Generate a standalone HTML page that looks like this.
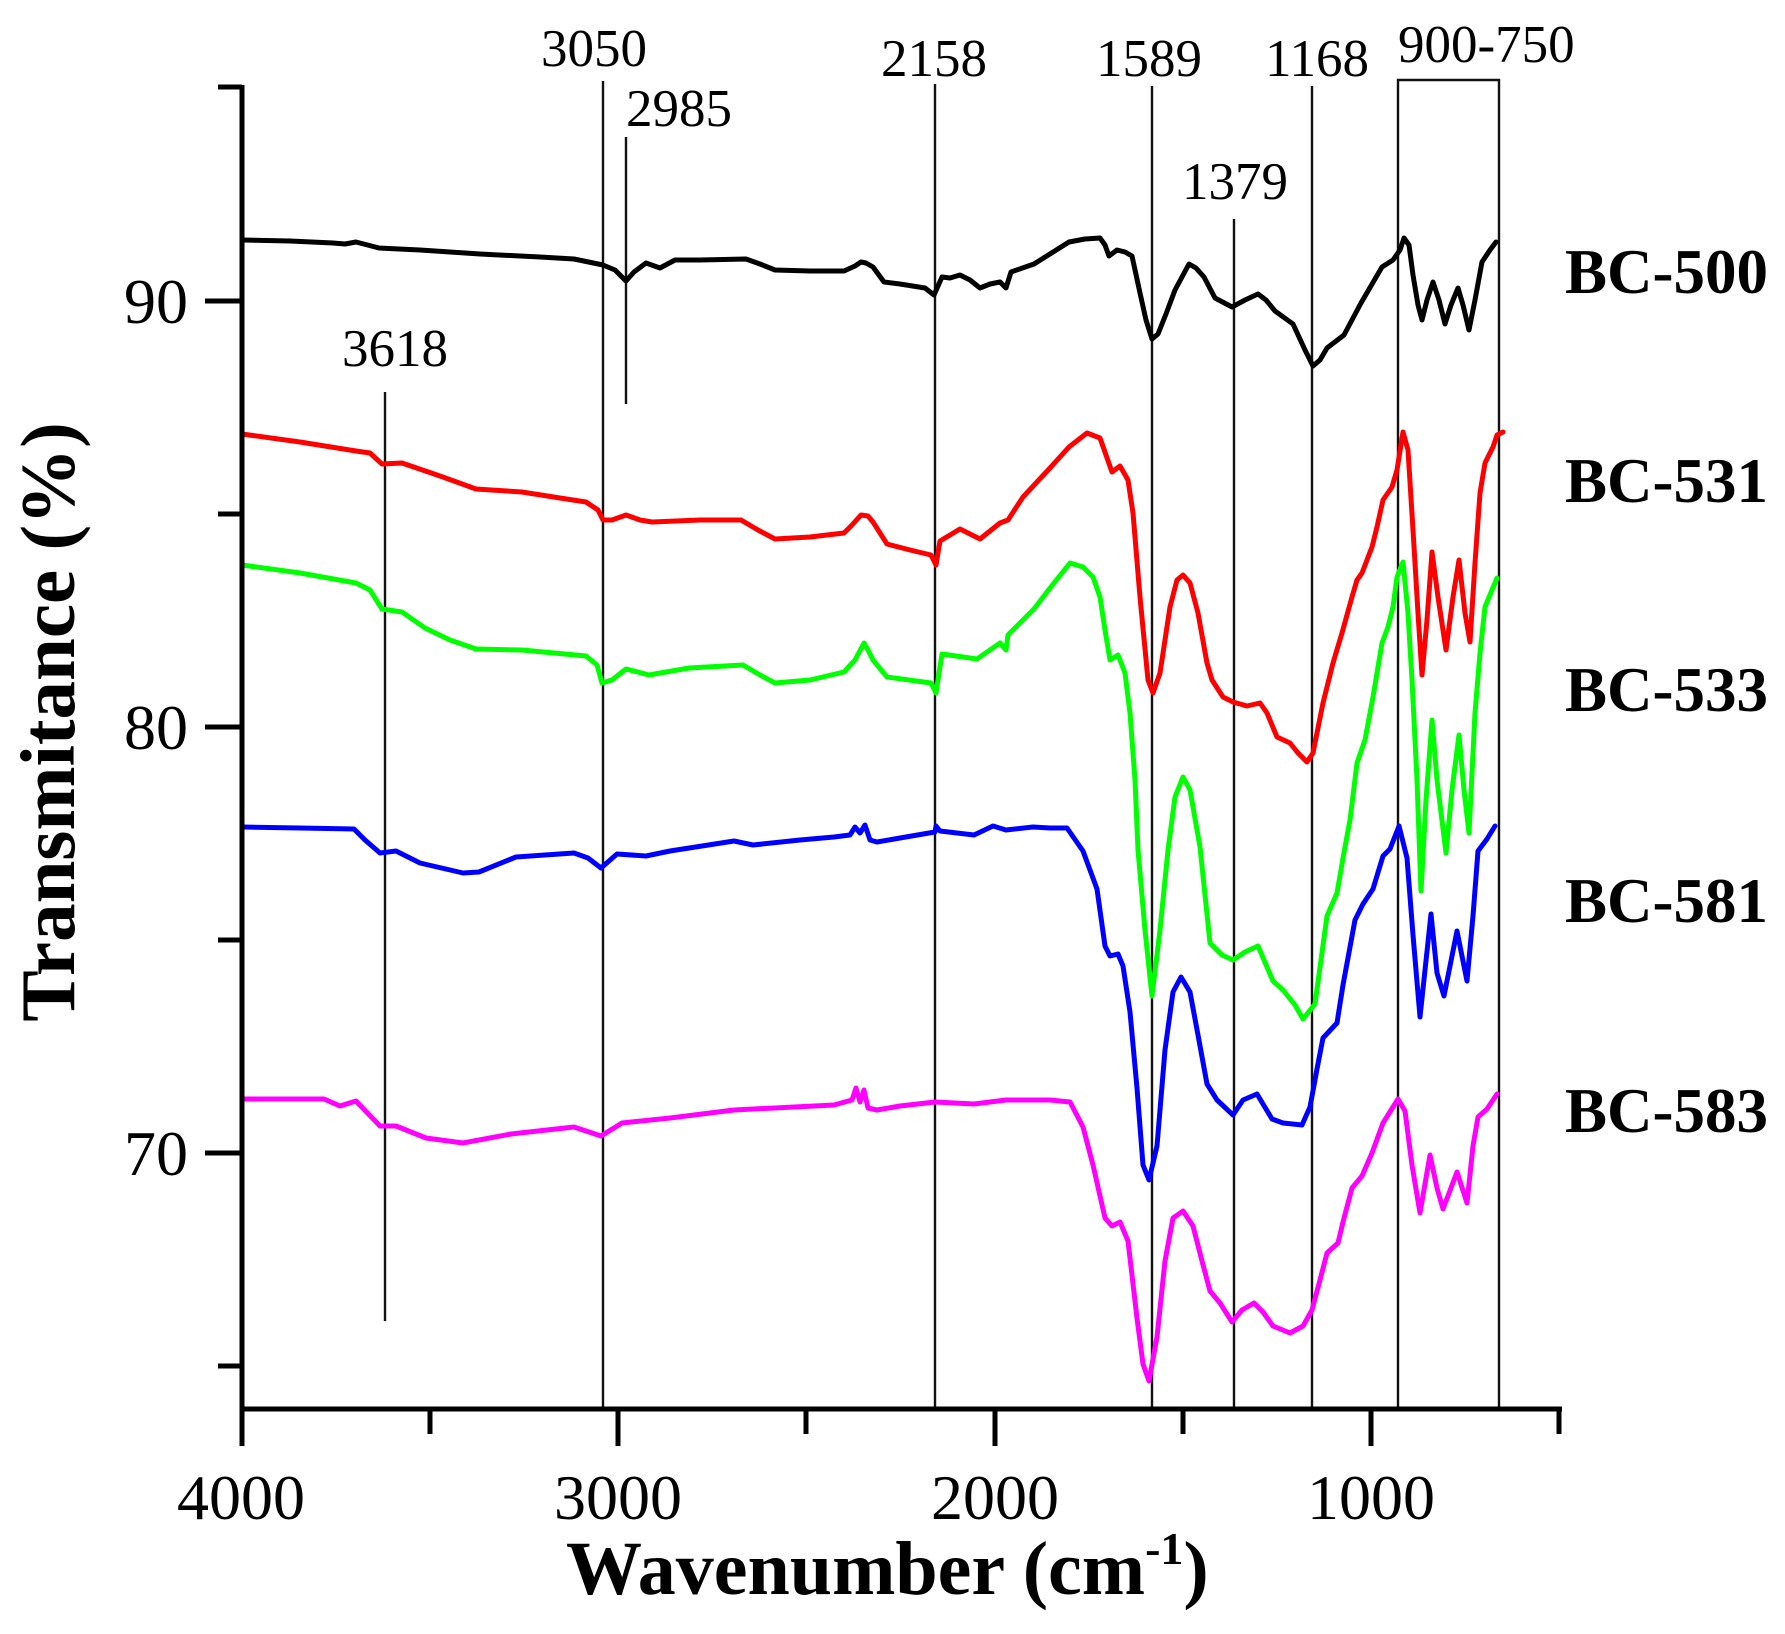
<!DOCTYPE html>
<html>
<head>
<meta charset="utf-8">
<style>
html,body{margin:0;padding:0;background:#fff;}
svg{display:block;}
text{font-family:"Liberation Serif","Times New Roman",serif;fill:#000;}
</style>
</head>
<body>
<svg width="1785" height="1634" viewBox="0 0 1785 1634" xmlns="http://www.w3.org/2000/svg">
<rect width="1785" height="1634" fill="#fff"/>

<!-- annotation vertical lines -->
<g stroke="#111" stroke-width="2.4" fill="none">
  <line x1="385" y1="392" x2="385" y2="1321"/>
  <line x1="603" y1="81" x2="603" y2="1409"/>
  <line x1="626" y1="137" x2="626" y2="404"/>
  <line x1="935" y1="84" x2="935" y2="1409"/>
  <line x1="1152" y1="86" x2="1152" y2="1409"/>
  <line x1="1234" y1="219" x2="1234" y2="1409"/>
  <line x1="1312" y1="86" x2="1312" y2="1409"/>
  <polyline points="1398,1409 1398,80 1499,80 1499,1409"/>
</g>

<!-- spectra -->
<g fill="none" stroke-width="5" stroke-linejoin="round" stroke-linecap="round">
<polyline stroke="#000000" points="242,240 290,241 333,243 345,244 356,242 379,248 420,250 480,254 540,257 574,259 603,265 615,270 626,281 634,272 646,263 660,268 675,260 700,260 746,259 760,264 775,270 810,271 844,271 855,266 861,262 866,263 873,267 884,282 900,284 925,288 934,295 942,277 950,278 960,275 970,280 980,288 990,284 1000,282 1006,288 1011,272 1034,264 1069,242 1085,239 1100,238 1105,245 1109,256 1117,250 1125,252 1132,256 1140,293 1146,320 1152,339 1158,334 1166,314 1175,290 1189,264 1196,268 1204,277 1215,298 1232,307 1245,300 1258,294 1266,300 1275,311 1293,324 1305,350 1313,366 1320,360 1327,348 1344,335 1361,303 1382,267 1393,260 1400,250 1404,238 1409,245 1413,275 1418,305 1422,320 1427,300 1433,282 1439,300 1445,324 1451,305 1458,288 1463,305 1469,330 1475,300 1482,262 1490,250 1496,242"/>
<polyline stroke="#ff0000" points="242,434 300,442 356,451 370,453 382,464 402,463 440,476 476,489 522,492 560,498 586,502 598,510 603,520 612,520 626,515 640,520 652,522 700,520 741,520 758,530 775,539 810,537 844,533 852,525 861,515 868,516 873,522 887,544 910,550 931,555 936,565 940,541 960,529 980,539 1000,523 1008,520 1023,497 1050,468 1069,447 1087,433 1100,438 1112,472 1120,466 1128,480 1133,513 1140,597 1148,680 1153,693 1160,673 1170,607 1177,580 1183,575 1190,583 1198,613 1207,663 1212,680 1223,697 1233,702 1247,706 1260,703 1267,713 1277,737 1290,743 1298,753 1307,762 1313,753 1323,703 1333,663 1342,633 1352,597 1357,580 1362,573 1372,547 1377,527 1383,500 1392,487 1397,470 1403,432 1408,450 1413,530 1418,613 1422,675 1427,620 1432,552 1438,597 1446,650 1453,597 1459,560 1465,613 1470,642 1475,563 1480,493 1485,463 1493,447 1497,435 1503,432"/>
<polyline stroke="#00ff00" points="242,565 300,573 356,583 370,590 382,609 402,612 425,628 450,640 476,649 522,650 586,656 597,665 602,683 612,680 626,669 649,675 689,668 743,665 760,675 775,683 810,680 844,672 855,660 864,643 868,650 873,660 887,677 931,683 936,693 942,654 977,659 1000,643 1006,650 1008,635 1034,609 1050,588 1070,563 1083,567 1093,577 1100,597 1105,630 1110,660 1118,655 1125,673 1130,713 1135,780 1138,850 1145,930 1152,996 1160,930 1168,850 1175,797 1183,777 1190,790 1200,847 1210,943 1222,955 1233,960 1245,952 1258,946 1273,981 1283,990 1295,1005 1303,1019 1315,1004 1327,916 1337,893 1343,858 1350,820 1357,763 1365,740 1373,697 1382,643 1388,627 1393,607 1397,577 1403,562 1408,613 1412,680 1417,780 1421,891 1426,800 1432,720 1437,780 1446,853 1452,790 1459,735 1464,790 1469,833 1475,713 1480,653 1485,607 1492,590 1497,578"/>
<polyline stroke="#0000ff" points="242,827 300,828 354,829 365,840 380,853 396,851 420,863 463,873 479,872 516,857 574,853 588,858 601,868 617,854 646,856 670,851 734,841 753,845 800,840 834,837 850,835 855,827 860,833 865,825 870,840 877,842 900,838 935,832 936,826 940,831 974,835 993,826 1006,830 1033,827 1050,828 1067,828 1083,851 1097,889 1105,946 1110,956 1118,954 1123,966 1130,1012 1137,1088 1143,1165 1149,1180 1157,1146 1165,1050 1173,992 1181,977 1190,992 1198,1035 1207,1084 1217,1100 1233,1115 1243,1100 1257,1094 1272,1119 1283,1123 1302,1125 1310,1107 1317,1069 1323,1038 1337,1023 1343,985 1355,920 1363,904 1373,889 1383,856 1390,849 1399,826 1407,858 1413,935 1420,1017 1431,914 1437,973 1444,996 1457,931 1467,981 1473,916 1478,851 1487,839 1495,826"/>
<polyline stroke="#ff00ff" points="242,1099 324,1099 340,1106 356,1101 380,1126 396,1126 426,1138 463,1143 511,1134 574,1127 601,1136 622,1123 670,1118 734,1110 834,1105 852,1100 856,1088 860,1102 864,1090 868,1108 877,1110 900,1106 935,1102 974,1104 1006,1100 1050,1100 1070,1102 1083,1127 1093,1165 1105,1218 1112,1226 1120,1222 1128,1241 1137,1318 1143,1364 1149,1381 1157,1337 1165,1261 1173,1218 1183,1211 1193,1226 1202,1261 1210,1291 1220,1303 1232,1322 1242,1310 1254,1303 1263,1312 1273,1326 1290,1333 1303,1326 1312,1310 1320,1280 1327,1253 1338,1243 1343,1222 1352,1188 1362,1176 1372,1153 1383,1123 1398,1099 1405,1111 1412,1165 1420,1213 1430,1155 1437,1188 1443,1209 1457,1172 1467,1203 1473,1146 1478,1117 1487,1109 1497,1094"/>
</g>

<!-- axes -->
<g stroke="#000" stroke-width="5" fill="none" stroke-linecap="butt">
  <line x1="242" y1="85" x2="242" y2="1411"/>
  <line x1="240" y1="1409" x2="1562" y2="1409"/>
  <!-- y ticks -->
  <line x1="218" y1="87" x2="242" y2="87"/>
  <line x1="205" y1="301" x2="242" y2="301"/>
  <line x1="218" y1="514" x2="242" y2="514"/>
  <line x1="205" y1="727" x2="242" y2="727"/>
  <line x1="218" y1="940" x2="242" y2="940"/>
  <line x1="205" y1="1153" x2="242" y2="1153"/>
  <line x1="218" y1="1366" x2="242" y2="1366"/>
  <!-- x ticks -->
  <line x1="242" y1="1409" x2="242" y2="1446"/>
  <line x1="430" y1="1409" x2="430" y2="1434"/>
  <line x1="618" y1="1409" x2="618" y2="1446"/>
  <line x1="806" y1="1409" x2="806" y2="1434"/>
  <line x1="995" y1="1409" x2="995" y2="1446"/>
  <line x1="1183" y1="1409" x2="1183" y2="1434"/>
  <line x1="1371" y1="1409" x2="1371" y2="1446"/>
  <line x1="1559" y1="1409" x2="1559" y2="1434"/>
</g>

<!-- tick labels -->
<g font-size="64" text-anchor="end">
  <text x="188" y="323">90</text>
  <text x="188" y="749">80</text>
  <text x="188" y="1175">70</text>
</g>
<g font-size="64" text-anchor="middle">
  <text x="241" y="1519">4000</text>
  <text x="618" y="1519">3000</text>
  <text x="995" y="1519">2000</text>
  <text x="1371" y="1519">1000</text>
</g>

<!-- annotation labels -->
<g font-size="53" text-anchor="middle">
  <text x="594" y="66">3050</text>
  <text x="679" y="126">2985</text>
  <text x="395" y="366">3618</text>
  <text x="934" y="76">2158</text>
  <text x="1149" y="76">1589</text>
  <text x="1317" y="76">1168</text>
  <text x="1235" y="199">1379</text>
</g>
<text x="1398" y="62" font-size="53">900-750</text>

<!-- series labels -->
<g font-size="63" font-weight="bold">
  <text x="1565" y="293">BC-500</text>
  <text x="1565" y="502">BC-531</text>
  <text x="1565" y="711">BC-533</text>
  <text x="1565" y="922">BC-581</text>
  <text x="1565" y="1132">BC-583</text>
</g>

<!-- axis titles -->
<text transform="translate(74,722) rotate(-90)" text-anchor="middle" font-size="77" font-weight="bold">Transmitance (%)</text>
<text x="566" y="1594" font-size="76" font-weight="bold">Wavenumber (cm<tspan font-size="46" dy="-30">-1</tspan><tspan dy="30">)</tspan></text>
</svg>
</body>
</html>
